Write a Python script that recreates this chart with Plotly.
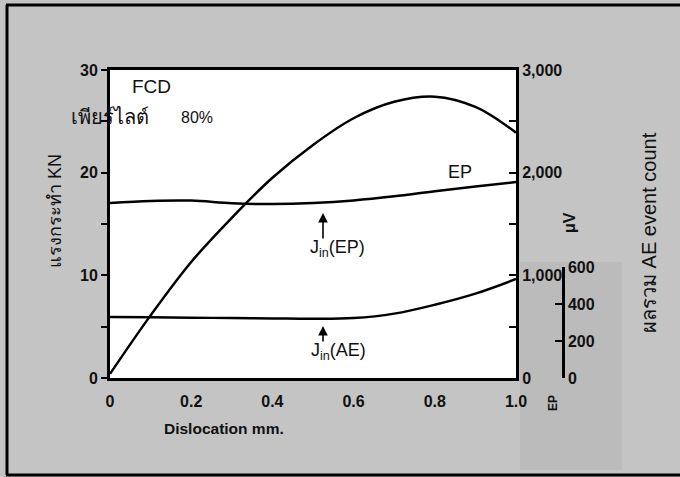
import plotly.graph_objects as go

# ---------------- data ----------------
disp = [0.0, 0.1, 0.2, 0.3, 0.4, 0.5, 0.6, 0.7, 0.8, 0.9, 1.0]
force_kn = [0.4, 6.1, 11.3, 15.6, 19.5, 22.7, 25.3, 26.9, 27.4, 26.4, 23.9]
ep_uv    = [1705, 1725, 1728, 1702, 1695, 1705, 1730, 1770, 1820, 1865, 1909]
ae_count = [330, 328, 326, 324, 322, 320, 324, 348, 396, 456, 535]

x_ticks = [0, 0.2, 0.4, 0.6, 0.8, 1.0]
x_ticktext = ["0", "0.2", "0.4", "0.6", "0.8", "1.0"]
uv_ticks = [0, 1000, 2000, 3000]
uv_ticktext = ["0", "1,000", "2,000", "3,000"]
ae_ticks = [0, 200, 400, 600]

# ---------------- layout geometry ----------------
W, H = 680, 477
L, R, T, B = 110, 60, 70, 99
PW = W - L - R          # paper width
PH = H - T - B          # paper height
PLOT_RIGHT = 516
AE_AXIS_X = 563
AE_TOP_PX = 267

def px(xp):
    return (xp - L) / PW

def py(yp):
    return (H - B - yp) / PH

FONT = "Liberation Sans, Arial, Noto Sans, sans-serif"
LW = 2.5

fig = go.Figure()
fig.add_trace(go.Scatter(x=disp, y=force_kn, mode="lines",
                         line=dict(color="black", width=LW, shape="spline", smoothing=1.0),
                         xaxis="x", yaxis="y", showlegend=False))
fig.add_trace(go.Scatter(x=disp, y=ep_uv, mode="lines",
                         line=dict(color="black", width=LW, shape="spline", smoothing=1.0),
                         xaxis="x", yaxis="y2", showlegend=False))
fig.add_trace(go.Scatter(x=disp, y=ae_count, mode="lines",
                         line=dict(color="black", width=LW, shape="spline", smoothing=1.0),
                         xaxis="x", yaxis="y3", showlegend=False))

tickfont = dict(family=FONT, size=16, color="#111111", weight="bold")

fig.update_layout(
    width=W, height=H,
    margin=dict(l=L, r=R, t=T, b=B, pad=0),
    paper_bgcolor="#c4c4c4",
    plot_bgcolor="rgba(0,0,0,0)",
    font=dict(family=FONT, color="#111111"),
    xaxis=dict(domain=[0, px(PLOT_RIGHT)], range=[0, 1], showgrid=False, zeroline=False,
               showline=True, linecolor="black", linewidth=3, mirror=True,
               tickvals=x_ticks, ticktext=x_ticktext, ticks="", tickfont=tickfont,
               ticklabelstandoff=7, anchor="y"),
    yaxis=dict(range=[0, 30], showgrid=False, zeroline=False,
               showline=True, linecolor="black", linewidth=3,
               dtick=10, ticks="outside", ticklen=6, tickwidth=2, tickcolor="black",
               minor=dict(dtick=5, ticks="outside", ticklen=6, tickwidth=2, tickcolor="black"),
               tickfont=tickfont, anchor="x"),
    yaxis2=dict(range=[0, 3000], overlaying="y", side="right", anchor="x",
                showgrid=False, zeroline=False, showline=True, linecolor="black", linewidth=3,
                tickvals=uv_ticks, ticktext=uv_ticktext,
                ticks="inside", ticklen=7, tickwidth=2, tickcolor="black",
                minor=dict(dtick=500, ticks="inside", ticklen=7, tickwidth=2, tickcolor="black"),
                tickfont=tickfont),
    yaxis3=dict(domain=[0, py(AE_TOP_PX)], range=[0, 600], anchor="free",
                position=px(AE_AXIS_X), side="right",
                showgrid=False, zeroline=False, showline=True, linecolor="black", linewidth=2.5,
                tickvals=ae_ticks, ticks="inside", ticklen=7, tickwidth=2, tickcolor="black",
                tickfont=tickfont),
)

# white plot area, scanned page framing and darker patch
fig.add_shape(type="rect", xref="paper", yref="paper",
              x0=0, x1=px(PLOT_RIGHT), y0=0, y1=1,
              fillcolor="white", line=dict(width=0), layer="below")
fig.add_shape(type="rect", xref="paper", yref="paper",
              x0=px(520), x1=px(622), y0=py(470), y1=py(262),
              fillcolor="#aeaeae", opacity=0.4, line=dict(width=0), layer="below")
fig.add_shape(type="line", xref="paper", yref="paper", x0=px(7), x1=px(7), y0=py(5), y1=py(475),
              line=dict(color="black", width=3))
fig.add_shape(type="line", xref="paper", yref="paper", x0=px(6), x1=px(680), y0=py(5), y1=py(5),
              line=dict(color="black", width=3))
fig.add_shape(type="line", xref="paper", yref="paper", x0=px(6), x1=px(680), y0=py(475), y1=py(475),
              line=dict(color="black", width=3))

def note(text, xp, yp, size, angle=0, xanchor="center", weight="normal", family=FONT):
    fig.add_annotation(text=text, xref="paper", yref="paper", x=px(xp), y=py(yp),
                       xanchor=xanchor, yanchor="middle", showarrow=False, textangle=angle,
                       font=dict(family=family, size=size, color="#111111", weight=weight))

note("FCD", 151, 86, 19)
note("เพียร์ไลต์", 69, 117, 20, xanchor="left")
note("80%", 197, 117, 16)
note("EP", 460, 172, 18)
note("J<sub>in</sub>(EP)", 337, 248, 18)
note("J<sub>in</sub>(AE)", 338, 351, 18)
note("Dislocation mm.", 162, 428, 15.5, xanchor="left", weight="bold")
note("แรงกระทำ KN", 55, 211, 18, angle=-90)
note("μV", 569, 223, 16, angle=-90, weight="bold")
note("ผลรวม AE event count", 649, 233, 20, angle=-90)
note("EP", 553, 403, 12, angle=-90, weight="bold")

# arrows for J_in markers
for tip_y, tail_y in [(213, 240), (326, 343)]:
    fig.add_annotation(xref="paper", yref="paper", x=px(323), y=py(tip_y),
                       axref="pixel", ayref="pixel", ax=0, ay=tail_y - tip_y,
                       text="", showarrow=True, arrowhead=2, arrowsize=1.2,
                       arrowwidth=1.6, arrowcolor="black")

fig.write_html("out.html")
